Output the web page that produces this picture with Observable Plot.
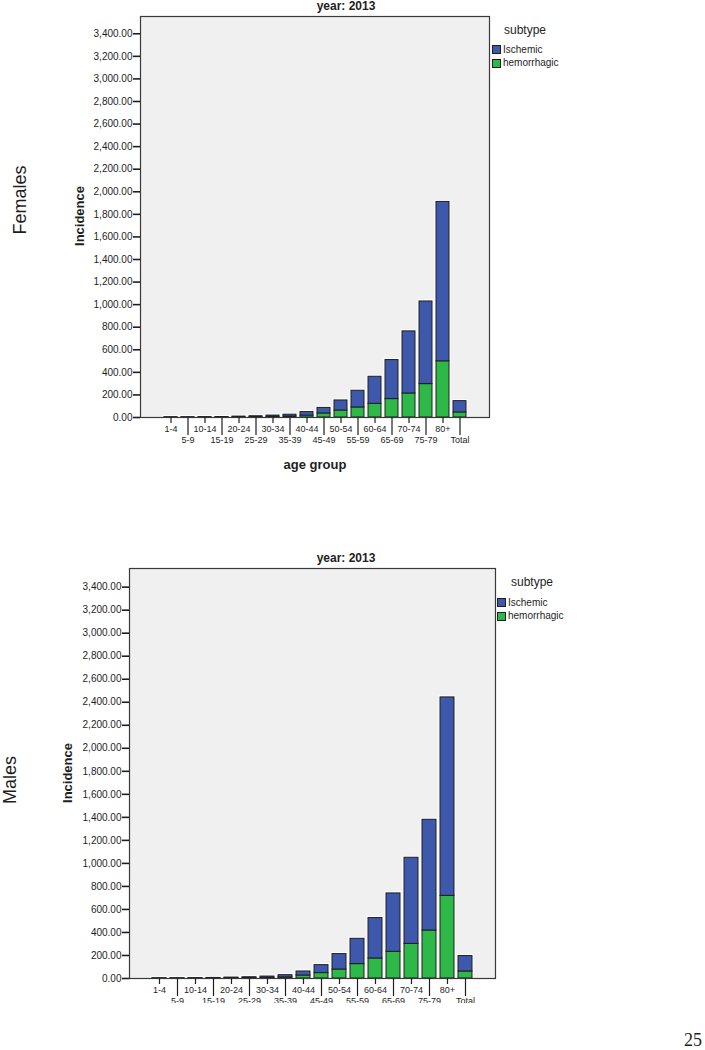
<!DOCTYPE html>
<html><head><meta charset="utf-8">
<script src="https://cdn.jsdelivr.net/npm/d3@7"></script>
<script src="https://cdn.jsdelivr.net/npm/@observablehq/plot@0.6"></script>
<style>
body{margin:0;background:#fff;font-family:"Liberation Sans",Arial,sans-serif;}
#page{position:relative;width:705px;height:1050px;overflow:hidden;background:#fff;}
.abs{position:absolute;white-space:nowrap;color:#1e1e1e;line-height:1;}
.c{transform:translate(-50%,-50%);}
.l{transform:translate(0,-50%);}
.rot{transform:translate(-50%,-50%) rotate(-90deg);}
.sw{position:absolute;width:7px;height:7px;border:1px solid #1e1e1e;}
.wrap{position:absolute;left:0;width:705px;overflow:hidden;}
</style></head><body><div id="page"></div>
<script>
// ---- data ----
const ageGroups = ["1-4","5-9","10-14","15-19","20-24","25-29","30-34","35-39","40-44","45-49","50-54","55-59","60-64","65-69","70-74","75-79","80+","Total"];
const subtypes = ["Ischemic","hemorrhagic"];
const subtypeColors = ["#3e58ac","#2eb848"];
const femaleIschemic    = [1,1,2,2,5,7,11,16,31,49,89,148,240,346,550,732,1412,100];
const femaleHemorrhagic = [1,1,1,2,3,4,6,9,17,36,62,89,121,163,213,296,498,45];
const maleIschemic      = [1,1,2,3,5,7,11,19,35,69,134,220,351,507,748,962,1724,134];
const maleHemorrhagic   = [1,1,1,2,3,4,6,10,26,47,78,125,174,232,301,417,718,61];
const yTicks = [0,200,400,600,800,1000,1200,1400,1600,1800,2000,2200,2400,2600,2800,3000,3200,3400];
const yearLabel = "year: 2013";

function chart({isch, hem, height, marginTop, marginLeft, marginRight, marginBottom, yMax}) {
  const rows = [];
  ageGroups.forEach((a, i) => rows.push({age: a, subtype: "hemorrhagic", value: hem[i]}));
  ageGroups.forEach((a, i) => rows.push({age: a, subtype: "Ischemic", value: isch[i]}));
  const row1 = ageGroups.filter((d, i) => i % 2 === 0);
  const row2 = ageGroups.filter((d, i) => i % 2 === 1);
  return Plot.plot({
    width: 705, height, marginTop, marginLeft, marginRight, marginBottom,
    style: {fontFamily: "'Liberation Sans', Arial, sans-serif", fontSize: "10px", color: "#1e1e1e", background: "transparent"},
    x: {domain: ageGroups, paddingInner: 0.24, paddingOuter: 1.1},
    y: {domain: [0, yMax]},
    color: {domain: subtypes, range: subtypeColors},
    marks: [
      Plot.frame({fill: "#f0f0f0"}),
      Plot.barY(rows, {x: "age", y: "value", fill: "none", stroke: "#ffffff", strokeWidth: 3}),
      Plot.barY(rows, {x: "age", y: "value", fill: "subtype", stroke: "#1e1e1e", strokeWidth: 1}),
      Plot.frame({stroke: "#3a3a3a", strokeWidth: 1.2}),
      Plot.axisY(yTicks, {tickFormat: d3.format(",.2f"), tickSize: 7, tickPadding: 1, strokeWidth: 1.6, label: null, fontSize: 10}),
      Plot.axisX(row1, {tickSize: 6, tickPadding: 2, strokeWidth: 1.2, label: null, fontSize: 9}),
      Plot.axisX(row2, {tickSize: 18, tickPadding: 1, strokeWidth: 1.2, label: null, fontSize: 9})
    ]
  });
}

const page = document.getElementById("page");
function txt(s, x, y, cls, style) {
  const d = document.createElement("div");
  d.className = "abs " + cls;
  d.textContent = s;
  d.style.left = x + "px"; d.style.top = y + "px";
  Object.assign(d.style, style || {});
  page.appendChild(d);
}
function swatch(x, y, color) {
  const d = document.createElement("div");
  d.className = "sw";
  d.style.left = x + "px"; d.style.top = y + "px"; d.style.background = color;
  page.appendChild(d);
}

// Females panel
const w1 = document.createElement("div");
w1.className = "wrap"; w1.style.top = "0px"; w1.style.height = "480px";
w1.appendChild(chart({isch: femaleIschemic, hem: femaleHemorrhagic, height: 480, marginTop: 16, marginLeft: 140, marginRight: 216, marginBottom: 63, yMax: 3553}));
page.appendChild(w1);

// Males panel
const w2 = document.createElement("div");
w2.className = "wrap"; w2.style.top = "540px"; w2.style.height = "463px";
w2.appendChild(chart({isch: maleIschemic, hem: maleHemorrhagic, height: 500, marginTop: 28, marginLeft: 129, marginRight: 210, marginBottom: 62, yMax: 3562}));
page.appendChild(w2);

// Female texts
txt("Females", 20, 200, "rot", {fontSize: "18px"});
txt("Incidence", 79, 216, "rot", {fontSize: "13px", fontWeight: "bold"});
txt(yearLabel, 346, 6, "c", {fontSize: "12px", fontWeight: "bold"});
txt("age group", 315, 464, "c", {fontSize: "13px", fontWeight: "bold"});
txt("subtype", 504, 30, "l", {fontSize: "12px"});
swatch(492, 45, subtypeColors[0]);
swatch(492, 58.5, subtypeColors[1]);
txt(subtypes[0], 503, 49.5, "l", {fontSize: "10px"});
txt(subtypes[1], 503, 63, "l", {fontSize: "10px"});

// Male texts
txt("Males", 10, 780, "rot", {fontSize: "18px"});
txt("Incidence", 67, 773, "rot", {fontSize: "13px", fontWeight: "bold"});
txt(yearLabel, 346, 558, "c", {fontSize: "12px", fontWeight: "bold"});
txt("subtype", 511, 582, "l", {fontSize: "12px"});
swatch(497, 598, subtypeColors[0]);
swatch(497, 611.5, subtypeColors[1]);
txt(subtypes[0], 508, 602.5, "l", {fontSize: "10px"});
txt(subtypes[1], 508, 616, "l", {fontSize: "10px"});

// page number
txt("25", 693, 1040, "c", {fontSize: "18px", fontFamily: "'Liberation Serif', serif"});
</script>
</body></html>
